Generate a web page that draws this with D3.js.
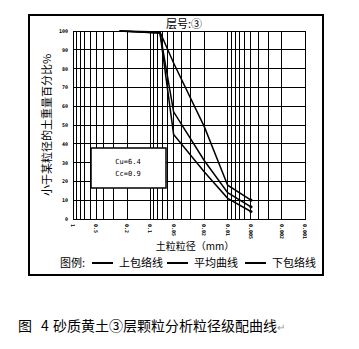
<!DOCTYPE html>
<html>
<head>
<meta charset="utf-8">
<script src="https://cdn.jsdelivr.net/npm/d3@7"></script>
<style>
  html, body { margin: 0; padding: 0; background: #fff; }
  svg { display: block; }
  .cjk { font-family: "Noto Sans CJK SC", sans-serif; }
</style>
</head>
<body>
<svg id="chart" width="359" height="349"></svg>
<script>
// Grain-size distribution: particle diameter (mm) vs. percent finer by mass
const diameters = [0.25, 0.075, 0.05, 0.02, 0.01, 0.005];
const upperEnvelope = [100, 99.5, 83, 49, 18, 10];
const averageCurve  = [100, 99, 57, 31, 14, 6.5];
const lowerEnvelope = [100, 99, 45, 25, 11, 4];

const xTickValues = [1, 0.5, 0.2, 0.1, 0.05, 0.02, 0.01, 0.005, 0.002, 0.001];
const xTickLabels = ["1", "0.5", "0.2", "0.1", "0.05", "0.02", "0.01", "0.005", "0.002", "0.001"];
const yTickValues = [0, 10, 20, 30, 40, 50, 60, 70, 80, 90, 100];

const layerTitle = "层号:③";
const yTitle = "小于某粒径的土重量百分比%";
const xTitle = "土粒粒径（mm）";
const legendLabels = ["上包络线", "平均曲线", "下包络线"];
const coefLines = ["Cu=6.4", "Cc=0.9"];
const captionParts = [["图", 18], ["4", 41], ["砂质黄土③层颗粒分析粒径级配曲线", 53]];

const svg = d3.select("#chart");
const L = 73, R = 305, T = 31, B = 219;

const x = d3.scaleLog().domain([1, 0.001]).range([L, R]);
const y = d3.scaleLinear().domain([0, 100]).range([B, T]);

// outer frame
svg.append("rect").attr("x", 29).attr("y", 15).attr("width", 294).attr("height", 260)
  .attr("fill", "none").attr("stroke", "#000").attr("stroke-width", 2);

// vertical log grid
const g = svg.append("g");
g.selectAll("line.vx").data(x.ticks()).join("line")
  .attr("x1", d => x(d)).attr("x2", d => x(d))
  .attr("y1", T).attr("y2", B)
  .attr("stroke", "#000").attr("stroke-width", 1).attr("shape-rendering", "crispEdges");
// horizontal grid
g.selectAll("line.hy").data(yTickValues).join("line")
  .attr("x1", L).attr("x2", R)
  .attr("y1", d => y(d)).attr("y2", d => y(d))
  .attr("stroke", "#000").attr("stroke-width", 1).attr("shape-rendering", "crispEdges");
g.append("rect").attr("x", L).attr("y", T).attr("width", R - L).attr("height", B - T)
  .attr("fill", "none").attr("stroke", "#000").attr("stroke-width", 1).attr("shape-rendering", "crispEdges");

// y tick labels
svg.append("g").selectAll("text").data(yTickValues).join("text")
  .attr("x", L - 5).attr("y", d => y(d) + 2)
  .attr("text-anchor", "end")
  .attr("font-family", "DejaVu Sans Mono, monospace").attr("font-size", 5).attr("font-weight", "bold")
  .text(d => d);

// x tick labels, rotated
svg.append("g").selectAll("text").data(xTickValues).join("text")
  .attr("transform", d => `translate(${x(d) - 2},${B + 5}) rotate(90)`)
  .attr("text-anchor", "start")
  .attr("font-family", "DejaVu Sans Mono, monospace").attr("font-size", 5).attr("font-weight", "bold")
  .text((d, i) => xTickLabels[i]);

// curves
const line = d3.line().x(d => x(d[0])).y(d => y(d[1]));
[upperEnvelope, averageCurve, lowerEnvelope].forEach(vals => {
  const pts = diameters.map((d, i) => [d, vals[i]]);
  svg.append("path").attr("d", line(pts))
    .attr("fill", "none").attr("stroke", "#000").attr("stroke-width", 1.5);
  const last = pts[pts.length - 1];
  svg.append("circle").attr("cx", x(last[0])).attr("cy", y(last[1])).attr("r", 1.6).attr("fill", "#000");
});

// coefficient box
svg.append("rect").attr("x", 91).attr("y", 148).attr("width", 75).attr("height", 40)
  .attr("fill", "#fff").attr("stroke", "#000").attr("stroke-width", 1.5);
svg.append("g").selectAll("text").data(coefLines).join("text")
  .attr("x", 128).attr("y", (d, i) => 164 + i * 12)
  .attr("text-anchor", "middle")
  .attr("font-family", "DejaVu Sans Mono, monospace").attr("font-size", 7)
  .text(d => d);

// titles
svg.append("text").attr("class", "cjk").attr("x", 184).attr("y", 28)
  .attr("text-anchor", "middle").attr("font-size", 11).text(layerTitle);
svg.append("text").attr("class", "cjk")
  .attr("transform", `translate(51,${(T + B) / 2}) rotate(-90)`)
  .attr("text-anchor", "middle").attr("font-size", 11).text(yTitle);
svg.append("text").attr("class", "cjk").attr("x", 195).attr("y", 250)
  .attr("text-anchor", "middle").attr("font-size", 10).text(xTitle);

// legend
const lg = svg.append("g").attr("class", "cjk").attr("font-size", 11);
lg.append("text").attr("x", 60).attr("y", 267).text("图例:");
const legendX = [92, 167, 245];
legendLabels.forEach((lab, i) => {
  lg.append("line").attr("x1", legendX[i]).attr("x2", legendX[i] + 21)
    .attr("y1", 263).attr("y2", 263).attr("stroke", "#000").attr("stroke-width", 2);
  lg.append("text").attr("x", legendX[i] + 27).attr("y", 267).text(lab);
});

// caption
const cap = svg.append("text").attr("class", "cjk").attr("y", 331).attr("font-size", 14);
captionParts.forEach(([t, px]) => cap.append("tspan").attr("x", px).text(t));
cap.append("tspan").attr("fill", "#999").attr("font-size", 10).text("↵");
</script>
</body>
</html>
